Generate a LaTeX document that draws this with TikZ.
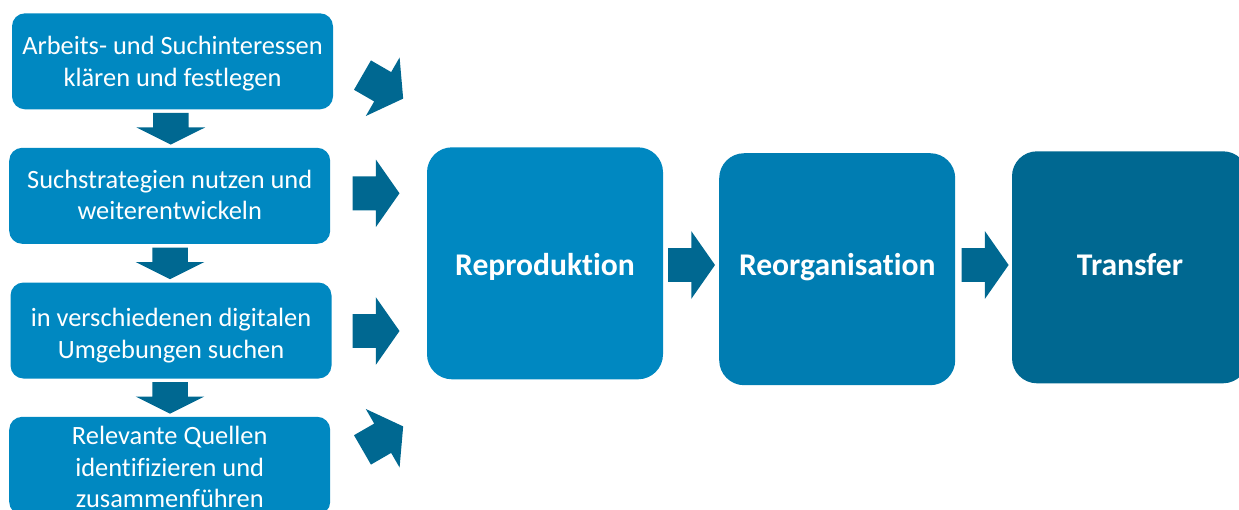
\documentclass[tikz,border=0pt]{standalone}
\usepackage{fontspec}
\setmainfont{Carlito}[Ligatures={NoCommon}]
\usetikzlibrary{shapes.arrows,calc}
\definecolor{boxblue}{HTML}{0088C1}
\definecolor{midblue}{HTML}{007DB2}
\definecolor{deepblue}{HTML}{006891}
\begin{document}
\begin{tikzpicture}[x=1pt,y=-1pt,
  stepbox/.style={fill=boxblue, rounded corners=13pt, minimum width=321pt,
    minimum height=96pt, inner sep=0pt},
  steptext/.style={align=center, text=white, inner sep=0pt,
    font=\fontsize{26.4}{31.5}\selectfont},
  stagebox/.style={rounded corners=25pt, minimum width=236pt,
    minimum height=232pt, inner sep=0pt},
  stagetext/.style={text=white, font=\fontsize{31.6}{37}\selectfont\bfseries,
    anchor=base, inner sep=0pt},
  flowarrow/.style={single arrow, fill=deepblue, draw=none, inner xsep=0pt,
    inner ysep=16.75pt, minimum height=47pt, single arrow head extend=16.85pt,
    single arrow tip angle=110, anchor=tail},
  downarrow/.style={single arrow, fill=deepblue, draw=none, inner xsep=0pt,
    inner ysep=17.5pt, minimum height=31.6pt, single arrow head extend=16.65pt,
    single arrow tip angle=127, rotate=-90, anchor=tail}]
\useasboundingbox (0,0) rectangle (1239,509);
\clip (0,0) rectangle (1239,509);

% left column of search steps
\node[stepbox] (s1) at (172.5,61.3) {};
\node[stepbox] (s2) at (169.7,195.8) {};
\node[stepbox] (s3) at (171,330.5) {};
\node[stepbox, minimum height=98pt] (s4) at (169.7,465.8) {};

\node[steptext] (t1) at ($(s1.center)+(0,2.5)$) {Arbeits- und Suchinteressen\\klären und festlegen};
\node[steptext] (t2) at ($(s2.center)+(0,-1)$) {Suchstrategien nutzen und\\weiterentwickeln};
\node[steptext] (t3) at ($(s3.center)+(0,5)$) {in verschiedenen digitalen\\Umgebungen suchen};
\node[steptext] (t4) at ($(s4.center)+(0,1.5)$) {Relevante Quellen\\identifizieren und\\zusammenführen};

\node[downarrow] (d12) at ($(s1.south)!0.5!(s2.north)+(-0.3,-15.8)$) {};
\node[downarrow] (d23) at ($(s2.south)!0.5!(s3.north)+(-0.3,-15.8)$) {};
\node[downarrow] (d34) at ($(s3.south)!0.5!(s4.north)+(-0.3,-15.8)$) {};

% stages
\node[stagebox, fill=boxblue] (rep) at (545,263.3) {};
\node[stagebox, fill=midblue] (reo) at (837.2,269.2) {};
\node[stagebox, fill=deepblue] (tra) at (1130,267.3) {};

\node[stagetext] (repl) at (rep.center |- 0,275) {Reproduktion};
\node[stagetext] (reol) at (reo.center |- 0,275) {Reorganisation};
\node[stagetext] (tral) at (tra.center |- 0,275) {Transfer};

% arrows into the first stage
\node[flowarrow, rotate=-30] (f1) at (362.3,75) {};
\node[flowarrow] (f2) at (352.3,193.3) {};
\node[flowarrow] (f3) at (352.3,331) {};
\node[flowarrow, rotate=30] (f4) at (362.3,450) {};

% arrows between stages
\node[flowarrow] (g1) at ($(rep.east |- 0,265)+(4.6,0)$) {};
\node[flowarrow] (g2) at ($(reo.east |- 0,265)+(6,0)$) {};
\end{tikzpicture}
\end{document}
